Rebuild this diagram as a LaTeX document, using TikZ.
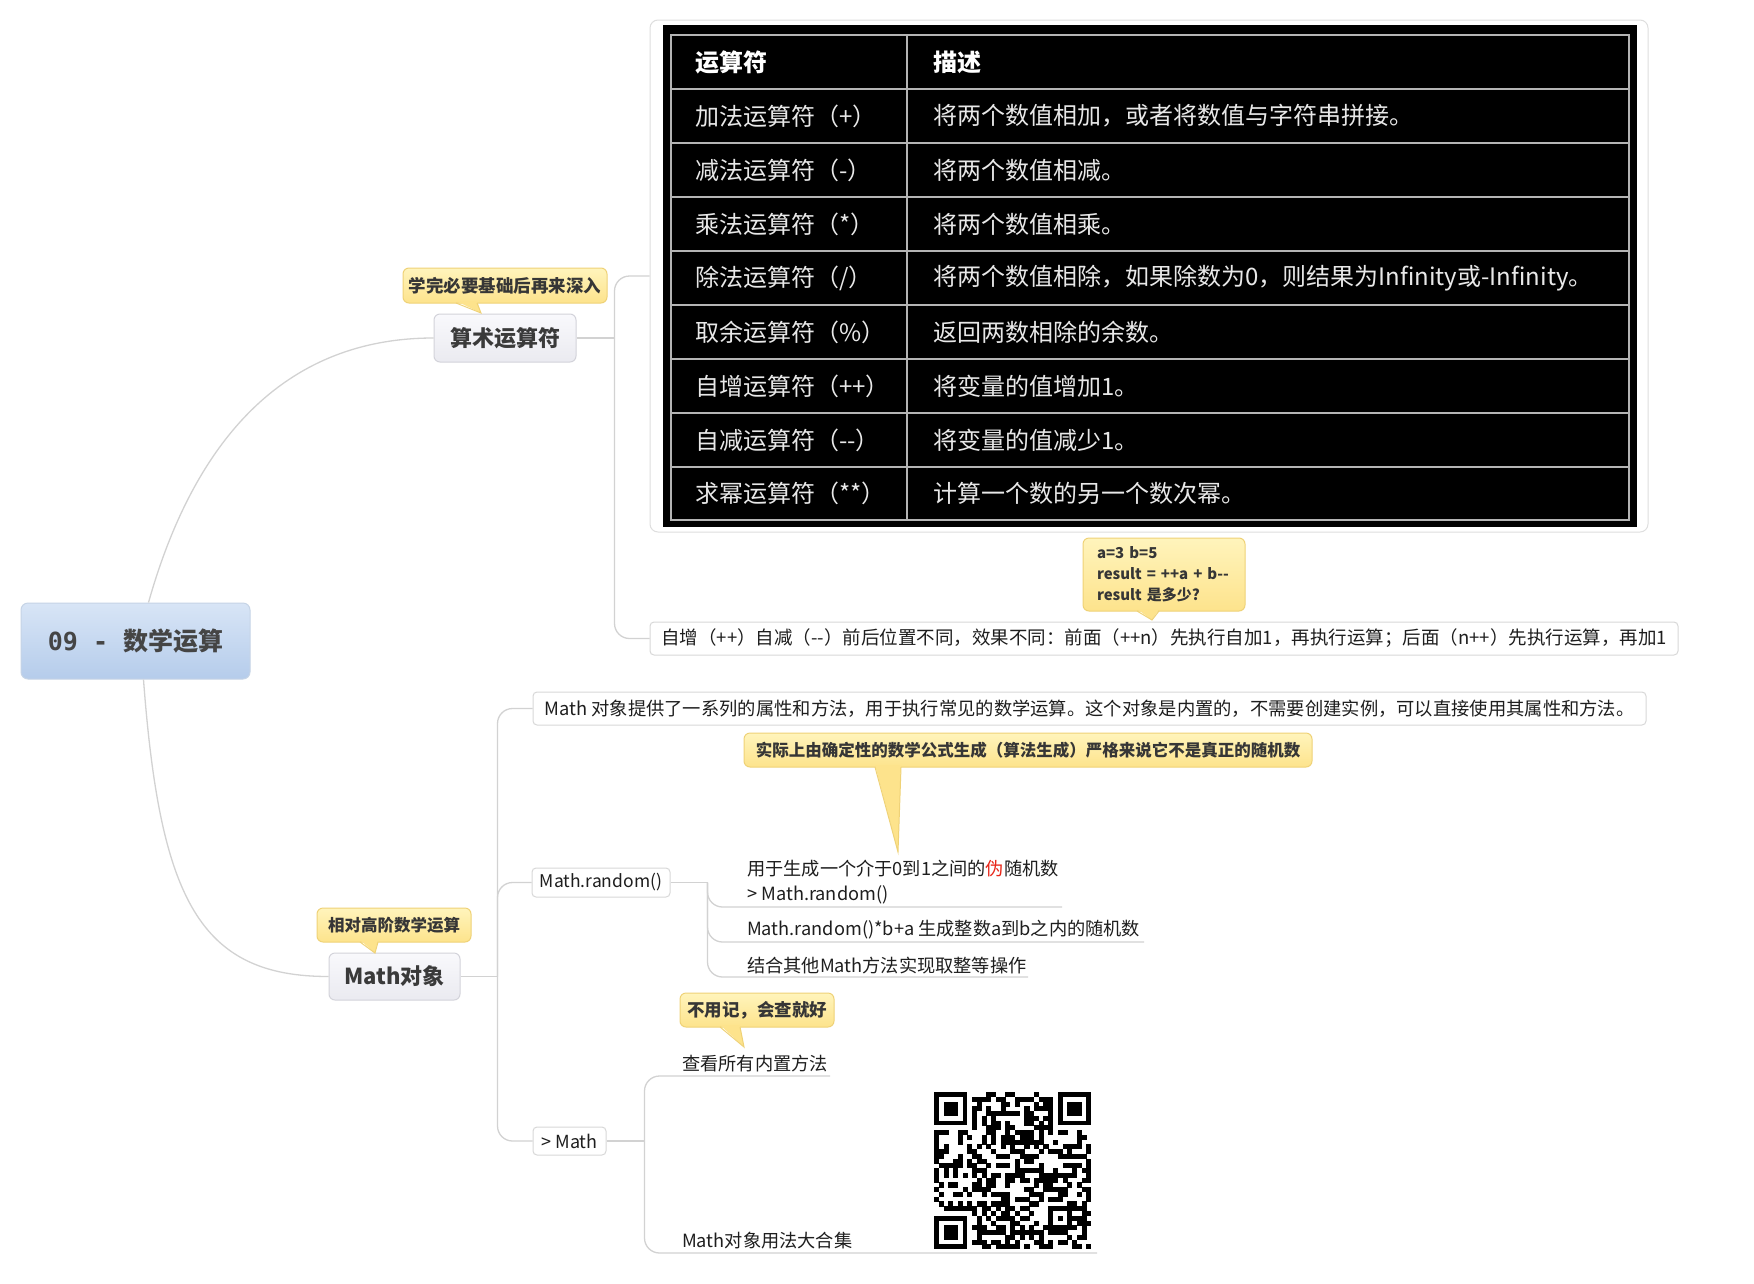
\documentclass[tikz,border=0pt]{standalone}
\usepackage{fontspec}
\setmainfont{Noto Sans CJK SC}
\newfontfamily\monof{DejaVu Sans Mono}
\usetikzlibrary{calc}
\definecolor{lineC}{HTML}{D2D2D2}
\definecolor{rootT}{HTML}{D8E5F6}
\definecolor{rootBot}{HTML}{B5CCEB}
\definecolor{rootB}{HTML}{C6D4E6}
\definecolor{rootText}{HTML}{454545}
\definecolor{mainT}{HTML}{F9F9FC}
\definecolor{mainBot}{HTML}{EAEAF0}
\definecolor{mainB}{HTML}{D3D3DA}
\definecolor{mainText}{HTML}{3A3A3A}
\definecolor{boxB}{HTML}{D8D8D8}
\definecolor{txtC}{HTML}{1E1E1E}
\definecolor{callT}{HTML}{FFF4BC}
\definecolor{callBot}{HTML}{FDE38C}
\definecolor{callB}{HTML}{EFD277}
\definecolor{callText}{HTML}{363636}
\definecolor{gridC}{HTML}{B4B4B4}
\definecolor{cellC}{HTML}{E8E8E8}
\definecolor{tblB}{HTML}{DEDEDE}
\definecolor{redC}{HTML}{E8271A}
\begin{document}
\begin{tikzpicture}[x=1pt,y=-1pt,
  conn/.style={draw=lineC, line width=1.3pt},
  branch/.style={conn, rounded corners=15pt},
  rootbox/.style={draw=rootB, line width=1pt, rounded corners=7pt, top color=rootT, bottom color=rootBot, minimum width=229pt, minimum height=76pt, inner sep=0pt, text=rootText, font=\bfseries\fontsize{25}{30}\selectfont},
  mainbox/.style={draw=mainB, line width=1pt, rounded corners=6pt, top color=mainT, bottom color=mainBot, inner sep=0pt, text=mainText, font=\bfseries\fontsize{22}{26}\selectfont},
  topicbox/.style={draw=boxB, line width=1pt, rounded corners=4pt, fill=white, inner sep=0pt, text=txtC},
  callbox/.style={draw=callB, line width=1pt, rounded corners=6pt, top color=callT, bottom color=callBot, inner sep=0pt, text=callText, font=\bfseries\fontsize{16.5}{20}\selectfont},
  ctail/.style={fill=callBot},
  ctailline/.style={draw=callB, line width=1pt},
  cellL/.style={anchor=west, inner sep=0pt, text=cellC, font=\fontsize{24}{28}\selectfont},
  cellH/.style={anchor=west, inner sep=0pt, text=white, font=\bfseries\fontsize{24}{28}\selectfont},
  childtxt/.style={anchor=west, inner sep=0pt, text=txtC, font=\fontsize{18.2}{25}\selectfont, align=left},
  gridline/.style={draw=gridC, line width=2pt}
]
\useasboundingbox (0,0) rectangle (1754,1283);
\fill[white] (0,0) rectangle (1754,1283);

% ---------- root and main topics ----------
\node[rootbox] (root) at (135.5,641) {{\monof\bfseries 09 -\ }数学运算};
\node[mainbox, minimum width=142pt, minimum height=48pt] (arith) at (505,338) {算术运算符};
\node[mainbox, minimum width=131pt, minimum height=47pt] (mathobj) at (394.5,976.5) {Math对象};

\draw[conn] ([xshift=13pt]root.north) .. controls (200,420) and (300,338) .. (arith.west);
\draw[conn] ([xshift=8pt]root.south) .. controls (160,900) and (200,976.5) .. (mathobj.west);

% ---------- table ----------
\node[draw=tblB, line width=1pt, fill=white, rounded corners=8pt, minimum width=998pt, minimum height=512pt, inner sep=0pt] (tbl) at (1149,276) {};
\node[fill=black, minimum width=974pt, minimum height=502pt, inner sep=0pt, anchor=north west] (tblbg) at (663,25) {};
\draw[gridline] (671,35) rectangle (1629,520);
\foreach \yy in {89,143,197,251,305,359,413,467} \draw[gridline] (671,\yy) -- (1629,\yy);
\draw[gridline] (907,35) -- (907,520);

\node[cellH] (h1) at (695,62) {运算符};
\node[cellH] (h2) at (933,62) {描述};
\node[cellL] (a1) at (695,116) {加法运算符（+）};
\node[cellL] (b1) at (933,116) {将两个数值相加，或者将数值与字符串拼接。};
\node[cellL] (a2) at (695,170) {减法运算符（-）};
\node[cellL] (b2) at (933,170) {将两个数值相减。};
\node[cellL] (a3) at (695,224) {乘法运算符（*）};
\node[cellL] (b3) at (933,224) {将两个数值相乘。};
\node[cellL] (a4) at (695,278) {除法运算符（/）};
\node[cellL] (b4) at (933,278) {将两个数值相除，如果除数为0，则结果为Infinity或-Infinity。};
\node[cellL] (a5) at (695,332) {取余运算符（\%）};
\node[cellL] (b5) at (933,332) {返回两数相除的余数。};
\node[cellL] (a6) at (695,386) {自增运算符（++）};
\node[cellL] (b6) at (933,386) {将变量的值增加1。};
\node[cellL] (a7) at (695,440) {自减运算符（-{}-）};
\node[cellL] (b7) at (933,440) {将变量的值减少1。};
\node[cellL] (a8) at (695,493.5) {求幂运算符（**）};
\node[cellL] (b8) at (933,493.5) {计算一个数的另一个数次幂。};

% ---------- note under arithmetic ----------
\node[topicbox, minimum width=1028pt, minimum height=33pt, font=\fontsize{18.5}{22}\selectfont] (note) at (1164,638.5) {自增（++）自减（-{}-）前后位置不同，效果不同：前面（++n）先执行自加1，再执行运算；后面（n++）先执行运算，再加1};

\coordinate (J1) at ([xshift=38pt]arith.east);
\draw[conn] (arith.east) -- (J1);
\draw[branch] (J1) |- (tbl.west);
\draw[branch] (J1) |- (note.west);

% ---------- Math object branch ----------
\node[topicbox, minimum width=1113pt, minimum height=33pt, font=\fontsize{18.3}{22}\selectfont] (mdesc) at (1089.5,708.5) {Math 对象提供了一系列的属性和方法，用于执行常见的数学运算。这个对象是内置的，不需要创建实例，可以直接使用其属性和方法。};
\node[topicbox, minimum width=138pt, minimum height=29pt, font=\fontsize{17.5}{21}\selectfont] (mrand) at (601,882.5) {Math.random()};
\node[topicbox, minimum width=73pt, minimum height=28pt, font=\fontsize{18}{21}\selectfont] (mmath) at (569.5,1141) {> Math};

\coordinate (J0) at ([xshift=37pt]mathobj.east);
\draw[conn] (mathobj.east) -- (J0);
\draw[branch] (J0) |- (mdesc.west);
\draw[branch] (J0) |- (mrand.west);
\draw[branch] (J0) |- (mmath.west);

% Math.random children
\node[childtxt] (rc1) at (747,882.5) {用于生成一个介于0到1之间的\textcolor{redC}{伪}随机数\\> Math.random()};
\node[childtxt] (rc2) at (747,930) {Math.random()*b+a 生成整数a到b之内的随机数};
\node[childtxt] (rc3) at (747,966) {结合其他Math方法实现取整等操作};
\coordinate (u1) at (1062,907);
\coordinate (u2) at (1144,942);
\coordinate (u3) at (1028,977);
\coordinate (J2) at ([xshift=37pt]mrand.east);
\draw[conn] (mrand.east) -- (J2);
\draw[branch] (J2) |- (u1);
\draw[branch] (J2) |- (u2);
\draw[branch] (J2) |- (u3);

% > Math children
\node[childtxt] (mc1) at (682,1064) {查看所有内置方法};
\node[childtxt] (mc2) at (682,1241) {Math对象用法大合集};
\coordinate (u4) at (830,1076);
\coordinate (u5) at (1097,1253);
\coordinate (J3) at ([xshift=38pt]mmath.east);
\draw[conn] (mmath.east) -- (J3);
\draw[branch] (J3) |- (u4);
\draw[branch] (J3) |- (u5);

% QR code (33 x 33 modules)
\coordinate (qr) at (934,1092);
\pgfmathsetmacro{\md}{4.76}
\pgfmathsetseed{4242}
\foreach \i in {0,...,32}{
  \foreach \j in {0,...,32}{
    \pgfmathtruncatemacro{\fz}{((\i<8)&&(\j<8)) || ((\i>24)&&(\j<8)) || ((\i<8)&&(\j>24)) || ((\i>22)&&(\i<28)&&(\j>22)&&(\j<28))}
    \pgfmathtruncatemacro{\bit}{rnd<0.5}
    \ifnum\fz=0 \ifnum\bit=1
      \fill[black] ($(qr)+(\i*\md,\j*\md)$) rectangle ++(\md+0.3,\md+0.3);
    \fi\fi
  }
}
\foreach \ox/\oy in {0/0,26/0,0/26}{
  \fill[black] ($(qr)+(\ox*\md,\oy*\md)$) rectangle ++(7*\md,7*\md);
  \fill[white] ($(qr)+(\ox*\md+\md,\oy*\md+\md)$) rectangle ++(5*\md,5*\md);
  \fill[black] ($(qr)+(\ox*\md+2*\md,\oy*\md+2*\md)$) rectangle ++(3*\md,3*\md);
}
\fill[black] ($(qr)+(24*\md,24*\md)$) rectangle ++(5*\md,5*\md);
\fill[white] ($(qr)+(25*\md,25*\md)$) rectangle ++(3*\md,3*\md);
\fill[black] ($(qr)+(26*\md,26*\md)$) rectangle ++(\md,\md);

% ---------- callouts ----------
\node[callbox, minimum width=204pt, minimum height=35pt, font=\bfseries\fontsize{17.5}{20}\selectfont] (c1) at (505,285.5) {学完必要基础后再来深入};
\coordinate (t1) at (481,313);
\fill[ctail] (456,301) -- (t1) -- (477,301) -- cycle;
\draw[ctailline] (456,303) -- (t1) -- (477,303);

\node[callbox, minimum width=162pt, minimum height=73pt, align=left, text width=134pt, font=\bfseries\fontsize{15}{21}\selectfont] (c2) at (1164,574.5) {a=3 b=5\\result = ++a + b-{}-\\result 是多少?};
\coordinate (t2) at (1152,620);
\fill[ctail] (1137,609) -- (t2) -- (1159,609) -- cycle;
\draw[ctailline] (1137,611) -- (t2) -- (1159,611);

\node[callbox, minimum width=154pt, minimum height=34pt] (c3) at (394,925) {相对高阶数学运算};
\coordinate (t3) at (375,953);
\fill[ctail] (360,940) -- (t3) -- (378,940) -- cycle;
\draw[ctailline] (360,942) -- (t3) -- (378,942);

\node[callbox, minimum width=568pt, minimum height=34pt] (c4) at (1028,750) {实际上由确定性的数学公式生成（算法生成）严格来说它不是真正的随机数};
\coordinate (t4) at (898,852);
\fill[ctail] (875,765) -- (t4) -- (901,765) -- cycle;
\draw[ctailline] (875,767) -- (t4) -- (901,767);

\node[callbox, minimum width=154pt, minimum height=34pt, font=\bfseries\fontsize{17.5}{20}\selectfont] (c5) at (757,1010) {不用记，会查就好};
\coordinate (t5) at (744,1047);
\fill[ctail] (720,1025) -- (t5) -- (740,1025) -- cycle;
\draw[ctailline] (720,1027) -- (t5) -- (740,1027);
\end{tikzpicture}
\end{document}
